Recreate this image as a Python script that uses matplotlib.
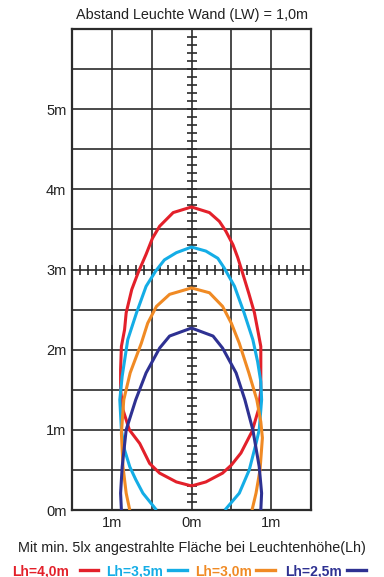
import numpy as np
import matplotlib
matplotlib.use("Agg")
import matplotlib.pyplot as plt
from matplotlib.lines import Line2D

plt.rcParams['font.family'] = ['Liberation Sans', 'DejaVu Sans']

title = "Abstand Leuchte Wand (LW) = 1,0m"
subtitle = "Mit min. 5lx angestrahlte Fläche bei Leuchtenhöhe(Lh)"
labels = ["Lh=4,0m", "Lh=3,5m", "Lh=3,0m", "Lh=2,5m"]
colors = ["#e3202a", "#14ade6", "#f08a24", "#2e3192"]

ytick_vals = [0, 1, 2, 3, 4, 5]
ytick_labels = ["0m", "1m", "2m", "3m", "4m", "5m"]
xtick_vals = [-1, 0, 1]
xtick_labels = ["1m", "0m", "1m"]

red_x = [0, -0.19, -0.40, -0.525, -0.65, -0.78, -0.86, -0.89, -0.89, -0.88, -0.84,
         -0.82, -0.75, -0.67, -0.57, -0.49, -0.40, -0.23, 0, 0.225, 0.35, 0.43,
         0.52, 0.58, 0.64, 0.72, 0.79, 0.84, 0.87, 0.87, 0.87, 0.84, 0.76, 0.62,
         0.50, 0.39, 0.18, 0]
red_y = [0.30, 0.35, 0.46, 0.58, 0.83, 1.0, 1.25, 1.5, 1.75, 2.04, 2.25,
         2.46, 2.75, 2.96, 3.19, 3.39, 3.54, 3.71, 3.78, 3.71, 3.6, 3.48,
         3.31, 3.15, 2.96, 2.7, 2.46, 2.2, 2.04, 1.75, 1.5, 1.25, 0.98, 0.71,
         0.56, 0.46, 0.35, 0.30]

cyan_x = [-0.44, -0.61, -0.70, -0.775, -0.84, -0.88, -0.90, -0.87, -0.80, -0.69,
          -0.57, -0.45, -0.34, -0.19, 0, 0.18, 0.33, 0.41, 0.54, 0.66, 0.77,
          0.83, 0.87, 0.88, 0.85, 0.81, 0.725, 0.60, 0.42]
cyan_y = [0.0, 0.21, 0.38, 0.54, 0.75, 1.0, 1.375, 1.67, 2.125, 2.46,
          2.79, 2.98, 3.12, 3.21, 3.28, 3.23, 3.14, 3.02, 2.79, 2.46, 2.125,
          1.85, 1.6, 1.375, 1.0, 0.83, 0.5, 0.21, 0.0]

orange_x = [-0.775, -0.82, -0.86, -0.88, -0.85, -0.77, -0.63, -0.55, -0.44,
            -0.275, 0, 0.225, 0.39, 0.50, 0.60, 0.72, 0.82, 0.87, 0.89,
            0.86, 0.81, 0.76]
orange_y = [0.0, 0.21, 0.54, 0.96, 1.375, 1.71, 2.08, 2.33, 2.54,
            2.69, 2.77, 2.71, 2.54, 2.33, 2.08, 1.71, 1.375, 1.1, 0.9,
            0.5, 0.21, 0.0]

navy_x = [-0.88, -0.89, -0.87, -0.82, -0.70, -0.57, -0.40, -0.275, 0,
          0.27, 0.39, 0.56, 0.67, 0.77, 0.85, 0.88, 0.87]
navy_y = [0.0, 0.21, 0.54, 1.0, 1.375, 1.71, 2.02, 2.17, 2.27,
          2.17, 2.02, 1.71, 1.375, 1.0, 0.54, 0.21, 0.0]

series = [(red_x, red_y), (cyan_x, cyan_y), (orange_x, orange_y), (navy_x, navy_y)]

W, H = 384, 577
fig = plt.figure(figsize=(W / 100, H / 100), dpi=100)
ax = fig.add_axes([72 / W, 1 - 510 / H, 239 / W, 481 / H])
ax.set_xlim(-1.5, 1.5)
ax.set_ylim(0, 6)

gc = "#2b2b2b"
for gx in np.arange(-1.0, 1.01, 0.5):
    ax.axvline(gx, color=gc, lw=1.2, zorder=1)
for gy in np.arange(0.5, 5.51, 0.5):
    ax.axhline(gy, color=gc, lw=1.2, zorder=1)

# small ticks along centre line and 3m line
ty = np.arange(0.1, 6.0, 0.1)
ax.plot(np.zeros_like(ty), ty, ls='none', marker='_', ms=7.5, mew=1.2, color=gc, zorder=2)
tx = np.arange(-1.4, 1.41, 0.1)
ax.plot(tx, np.full_like(tx, 3.0), ls='none', marker='|', ms=7.5, mew=1.2, color=gc, zorder=2)

for (xs, ys), c in zip(series, colors):
    ax.plot(xs, ys, color=c, lw=2.2, solid_joinstyle='round', solid_capstyle='butt',
            zorder=3, clip_on=True)

for s in ax.spines.values():
    s.set_color(gc)
    s.set_linewidth(1.6)

ax.set_yticks(ytick_vals)
ax.set_yticklabels(ytick_labels)
ax.set_xticks(xtick_vals)
ax.set_xticklabels(xtick_labels)
ax.tick_params(length=0, labelsize=10.5, colors="#222222", pad=4)

fig.text(192 / W, 1 - 15 / H, title, ha='center', va='center', fontsize=10.4, color="#222222")
fig.text(192 / W, 1 - 548 / H, subtitle, ha='center', va='center', fontsize=10.4, color="#222222")

text_x = [12, 106, 195, 285]
line_x = [(80, 98), (168, 187), (256, 275), (347, 366)]
for lab, c, tx0, (l0, l1) in zip(labels, colors, text_x, line_x):
    fig.text(tx0 / W, 1 - 571 / H, lab, ha='left', va='center', fontsize=10.0,
             fontweight='bold', color=c)
    fig.add_artist(Line2D([l0 / W, l1 / W], [1 - 570 / H, 1 - 570 / H],
                          color=c, lw=2.4, transform=fig.transFigure))

fig.savefig("out.png", dpi=100)
